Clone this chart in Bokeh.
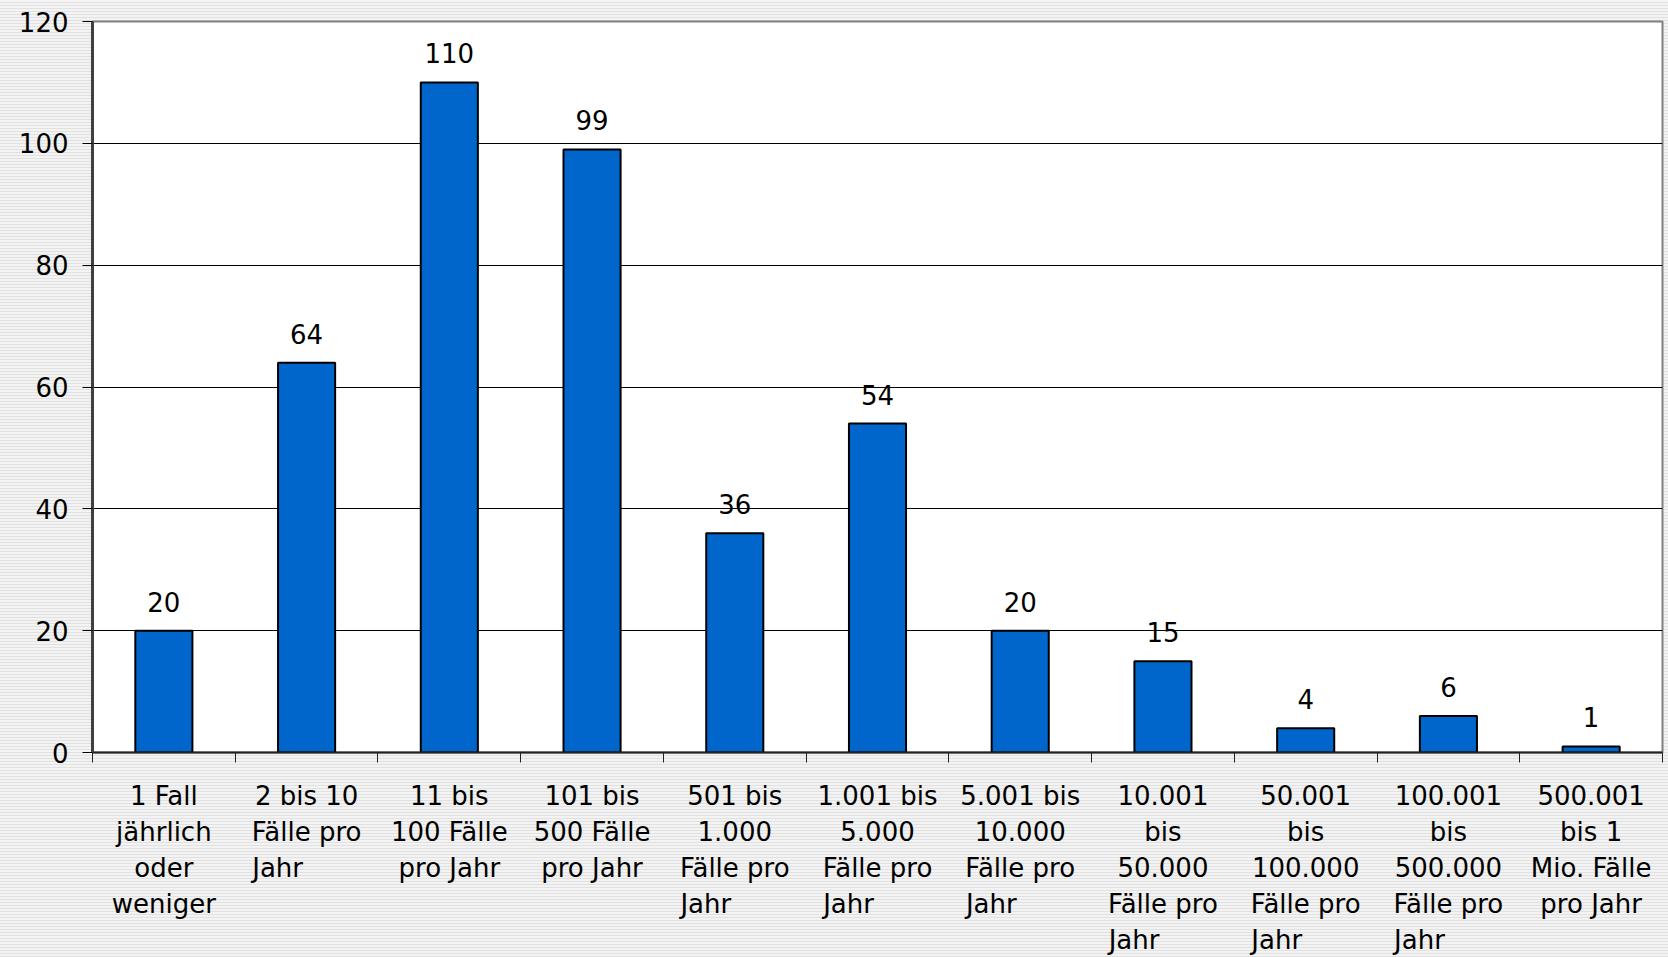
from bokeh.plotting import figure
from bokeh.models import Range1d, FixedTicker, ColumnDataSource, LabelSet
from bokeh.core.properties import value
from bokeh.embed import file_html
from bokeh.resources import INLINE

NB = "\u00a0"
JAHR = "Jahr" + NB * 7

categories = [
    "1 Fall\njährlich\noder\nweniger",
    "2 bis 10\nFälle pro\n" + JAHR,
    "11 bis\n100 Fälle\npro Jahr",
    "101 bis\n500 Fälle\npro Jahr",
    "501 bis\n1.000\nFälle pro\n" + JAHR,
    "1.001 bis\n5.000\nFälle pro\n" + JAHR,
    "5.001 bis\n10.000\nFälle pro\n" + JAHR,
    "10.001\nbis\n50.000\nFälle pro\n" + JAHR,
    "50.001\nbis\n100.000\nFälle pro\n" + JAHR,
    "100.001\nbis\n500.000\nFälle pro\n" + JAHR,
    "500.001\nbis 1\nMio. Fälle\npro Jahr",
]
values = [20, 64, 110, 99, 36, 54, 20, 15, 4, 6, 1]
y_ticks = [0, 20, 40, 60, 80, 100, 120]

FONT = "DejaVu Sans"
n = len(categories)
centers = [i + 0.5 for i in range(n)]

src = ColumnDataSource(dict(x=centers, top=values, lab=[str(v) for v in values]))

p = figure(width=1668, height=957, output_backend="svg", toolbar_location=None,
           x_range=Range1d(0, n), y_range=Range1d(0, 120),
           min_border_left=92, min_border_right=6, min_border_top=21, min_border_bottom=198)

p.border_fill_color = None
p.styles = {"background": "repeating-linear-gradient(to bottom, #f3f3f3 0px, #f3f3f3 2px, #e1e1e1 2px, #e1e1e1 3px)"}
p.background_fill_color = "white"
p.outline_line_color = "#808080"
p.outline_line_width = 2

p.vbar(x="x", top="top", width=0.4, bottom=0, source=src,
       fill_color="#0066CC", line_color="black", line_width=2)

labels = LabelSet(x="x", y="top", text="lab", source=src, text_align="center",
                  text_baseline="alphabetic", y_offset=19, text_font=value(FONT),
                  text_font_size="26px", text_color="black")
p.add_layout(labels)

# x axis
xa = p.xaxis[0]
xa.ticker = FixedTicker(ticks=centers, minor_ticks=list(range(n + 1)))
xa.major_label_overrides = {c: lab for c, lab in zip(centers, categories)}
xa.major_tick_line_color = None
xa.major_tick_out = 0
xa.major_tick_in = 0
xa.minor_tick_out = 10
xa.minor_tick_in = 0
xa.minor_tick_line_color = "#222222"
xa.minor_tick_line_width = 1
xa.axis_line_color = "#222222"
xa.axis_line_width = 2
xa.major_label_standoff = 18
xa.major_label_text_font = FONT
xa.major_label_text_font_size = "26px"
xa.major_label_text_color = "black"
xa.major_label_text_line_height = 1.2
xa.major_label_orientation = "horizontal"

# y axis
ya = p.yaxis[0]
ya.ticker = FixedTicker(ticks=y_ticks)
ya.minor_tick_line_color = None
ya.major_tick_out = 10
ya.major_tick_in = 0
ya.major_tick_line_color = "black"
ya.axis_line_color = "#404040"
ya.axis_line_width = 3
ya.major_label_standoff = 14
ya.major_label_text_font = FONT
ya.major_label_text_font_size = "26px"
ya.major_label_text_color = "black"

p.xgrid.grid_line_color = None
p.ygrid.grid_line_color = "black"
p.ygrid.grid_line_width = 1
p.ygrid.ticker = FixedTicker(ticks=y_ticks)

open("out.html", "w").write(file_html(p, INLINE))
